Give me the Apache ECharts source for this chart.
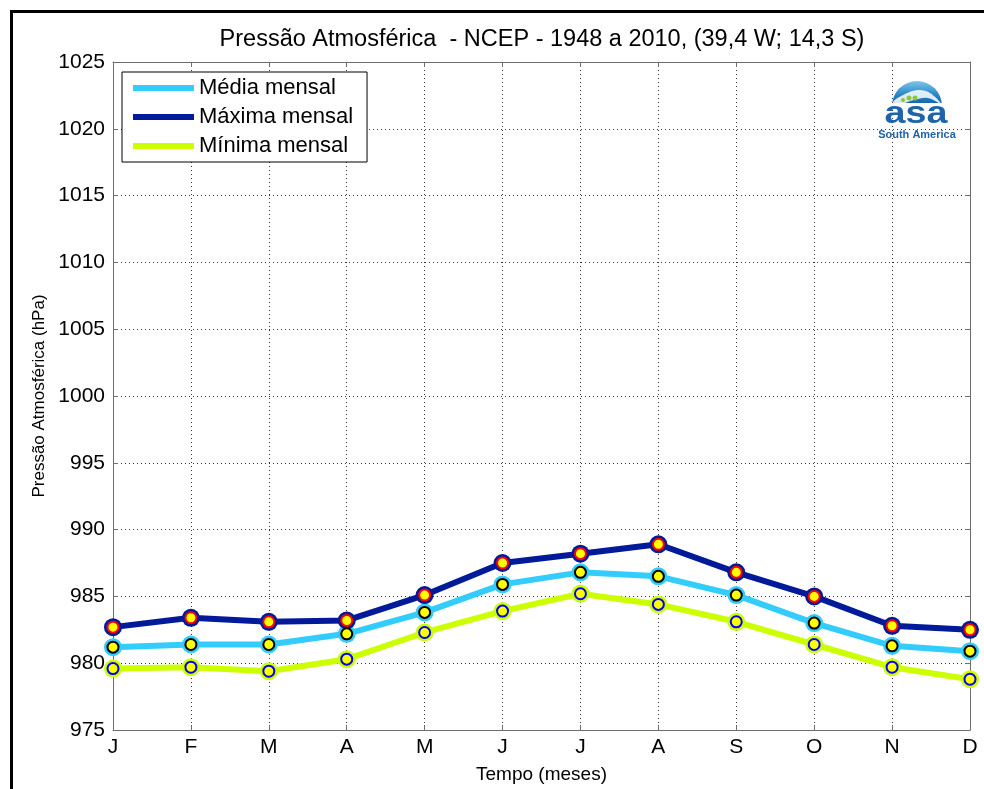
<!DOCTYPE html>
<html>
<head>
<meta charset="utf-8">
<script src="https://cdn.jsdelivr.net/npm/echarts@6/dist/echarts.min.js"></script>
<style>
  html, body { margin: 0; padding: 0; background: #fff; }
  #chart { width: 984px; height: 789px; }
</style>
</head>
<body>
<div id="chart"></div>
<script>
  // meses
  const months = ['J', 'F', 'M', 'A', 'M', 'J', 'J', 'A', 'S', 'O', 'N', 'D']
  // pressao (hPa)
  const media = [981.2, 981.4, 981.4, 982.2, 983.8, 985.9, 986.8, 986.5, 985.1, 983.0, 981.3, 980.9]
  const maxima = [982.7, 983.4, 983.1, 983.2, 985.1, 987.5, 988.2, 988.9, 986.8, 985.0, 982.8, 982.5]
  const minima = [979.6, 979.7, 979.4, 980.3, 982.3, 983.9, 985.2, 984.4, 983.1, 981.4, 979.7, 978.8]
  const yTicks = [975, 1025, 5] // min, max, passo

  const font = 'Liberation Sans, Arial, Helvetica, sans-serif'

  const chart = echarts.init(document.getElementById('chart'))

  function lineSerie(name, data, color) {
    return {
      name: name,
      type: 'line',
      data: data,
      symbol: 'circle',
      symbolSize: 18,
      itemStyle: { color: color },
      lineStyle: { color: color, width: 6 },
      animation: false,
      z: 2
    }
  }
  function markerSerie(name, data, edge) {
    return {
      name: name,
      type: 'scatter',
      data: data,
      symbol: 'circle',
      symbolSize: 11,
      itemStyle: { color: '#ffff00', borderColor: edge, borderWidth: 2, opacity: 1 },
      animation: false,
      silent: true,
      z: 3
    }
  }

  const axisColor = '#6e6e6e'

  const options = {
    backgroundColor: '#fff',
    title: {
      text: 'Pressão Atmosférica  - NCEP - 1948 a 2010, (39,4 W; 14,3 S)',
      left: 537,
      textAlign: 'center',
      top: 23,
      textStyle: { fontFamily: font, fontSize: 23.5, fontWeight: 'normal', color: '#000' }
    },
    grid: { left: 113, right: 14, top: 62, bottom: 56 },
    legend: {
      data: ['Média mensal', 'Máxima mensal', 'Mínima mensal'],
      orient: 'vertical',
      left: 122,
      top: 72,
      icon: 'rect',
      itemWidth: 61,
      itemHeight: 6,
      itemGap: 5,
      padding: [4, 14, 4, 11],
      borderColor: '#000',
      borderWidth: 1,
      backgroundColor: '#fff',
      textStyle: { fontFamily: font, fontSize: 22, color: '#000', lineHeight: 24 }
    },
    xAxis: [{
      type: 'category',
      data: months,
      boundaryGap: false,
      name: 'Tempo (meses)',
      nameLocation: 'middle',
      nameGap: 35,
      nameTextStyle: { fontFamily: font, fontSize: 19, color: '#000' },
      axisLine: { lineStyle: { color: axisColor, width: 1 } },
      axisTick: { inside: true, length: 5, lineStyle: { color: axisColor } },
      axisLabel: { fontFamily: font, fontSize: 21, color: '#000', margin: 7 },
      splitLine: { show: true, lineStyle: { type: [1, 3], color: '#333', width: 1 } }
    }, {
      type: 'category',
      data: months,
      boundaryGap: false,
      position: 'top',
      axisLine: { lineStyle: { color: axisColor, width: 1 } },
      axisTick: { inside: true, length: 5, lineStyle: { color: axisColor } },
      axisLabel: { show: false },
      splitLine: { show: false }
    }],
    yAxis: [{
      type: 'value',
      min: yTicks[0],
      max: yTicks[1],
      interval: yTicks[2],
      name: 'Pressão Atmosférica (hPa)',
      nameLocation: 'middle',
      nameGap: 62,
      nameTextStyle: { fontFamily: font, fontSize: 17, color: '#000' },
      axisLine: { show: true, lineStyle: { color: axisColor, width: 1 } },
      axisTick: { show: true, inside: true, length: 5, lineStyle: { color: axisColor } },
      axisLabel: { fontFamily: font, fontSize: 21, color: '#000', margin: 8, formatter: v => String(v) },
      splitLine: { show: true, lineStyle: { type: [1, 3], color: '#333', width: 1 } }
    }, {
      type: 'value',
      min: yTicks[0],
      max: yTicks[1],
      interval: yTicks[2],
      position: 'right',
      axisLine: { show: true, lineStyle: { color: axisColor, width: 1 } },
      axisTick: { show: true, inside: true, length: 5, lineStyle: { color: axisColor } },
      axisLabel: { show: false },
      splitLine: { show: false }
    }],
    series: [
      lineSerie('Média mensal', media, '#33ccff'),
      lineSerie('Máxima mensal', maxima, '#001a99'),
      lineSerie('Mínima mensal', minima, '#ccff00'),
      markerSerie('m1', media, '#000000'),
      markerSerie('m2', maxima, '#ff0000'),
      markerSerie('m3', minima, '#0000ff')
    ],
    graphic: [
      // moldura
      { type: 'polyline', silent: true, shape: { points: [[11.5, 789], [11.5, 11.5], [984, 11.5]] },
        style: { stroke: '#000', lineWidth: 3, fill: null } },
      // logo asa
      { type: 'sector', silent: true, z: 10,
        shape: { cx: 917, cy: 106, r: 25, r0: 0, startAngle: Math.PI, endAngle: 2 * Math.PI },
        style: { fill: new echarts.graphic.LinearGradient(0, 0, 0, 1, [
          { offset: 0, color: '#7cc8ec' }, { offset: 0.55, color: '#2a86c6' }, { offset: 1, color: '#105da0' }]) } },
      { type: 'polygon', silent: true, z: 11,
        shape: { points: [[893, 102], [905, 94], [918, 90], [930, 93], [941, 104], [928, 98], [914, 100], [900, 104]], smooth: 0.4 },
        style: { fill: '#ffffff', opacity: 0.85 } },
      { type: 'rect', silent: true, z: 11, shape: { x: 890, y: 103, width: 56, height: 4 }, style: { fill: '#ffffff' } },
      { type: 'circle', silent: true, z: 12, shape: { cx: 903, cy: 100, r: 2 }, style: { fill: '#8cc63f' } },
      { type: 'circle', silent: true, z: 12, shape: { cx: 909, cy: 98, r: 2.5 }, style: { fill: '#8cc63f' } },
      { type: 'circle', silent: true, z: 12, shape: { cx: 915, cy: 98, r: 2.5 }, style: { fill: '#8cc63f' } },
      { type: 'text', silent: true, z: 12, x: 916, y: 114, scaleX: 1.18,
        style: { text: 'asa', x: 0, y: 0, align: 'center', verticalAlign: 'middle',
          font: 'bold 32px ' + font, fill: '#1d64aa' } },
      { type: 'text', silent: true, z: 12,
        style: { text: 'South America', x: 917, y: 135, align: 'center', verticalAlign: 'middle',
          font: 'bold 11px ' + font, fill: '#1d64aa' } }
    ]
  }

  chart.setOption(options)
</script>
</body>
</html>
